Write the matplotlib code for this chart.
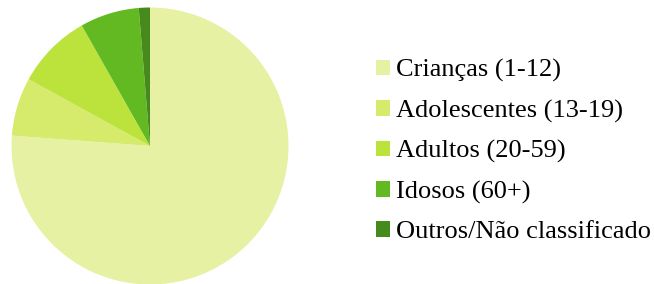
import matplotlib.pyplot as plt
from matplotlib.patches import Patch

labels = ['Crianças (1-12)', 'Adolescentes (13-19)', 'Adultos (20-59)',
          'Idosos (60+)', 'Outros/Não classificado']
values = [76.2, 6.8, 8.8, 6.9, 1.3]
colors = ['#E7F1A3', '#D6EB6C', '#BCE33C', '#62B922', '#468A1E']

W, H = 654, 284
fig = plt.figure(figsize=(W / 100, H / 100), dpi=100)

# pie: centre ~ (150, 146) px from top-left, radius ~138.5 px
cx, cy, r = 150, 146, 138.5
ax = fig.add_axes([(cx - r) / W, (H - cy - r) / H, 2 * r / W, 2 * r / H])
ax.pie(values, colors=colors, startangle=90, counterclock=False,
       wedgeprops=dict(linewidth=0))
ax.set_xlim(-1, 1)
ax.set_ylim(-1, 1)
ax.set_aspect('auto')

handles = [Patch(facecolor=c, edgecolor='none') for c in colors]
fig.legend(handles, labels, loc='upper left', bbox_to_anchor=(376 / W, 1 - 59 / H),
           frameon=False, prop={'family': 'Liberation Serif', 'size': 19},
           handlelength=0.53, handleheight=0.53, handletextpad=0.23,
           labelspacing=0.66, borderaxespad=0, borderpad=0)

fig.savefig('out.png', dpi=100)
